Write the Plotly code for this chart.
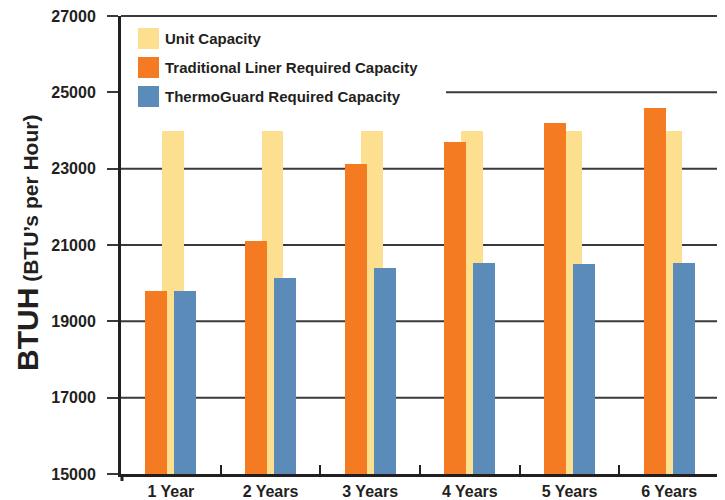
import plotly.graph_objects as go

years = ["1 Year", "2 Years", "3 Years", "4 Years", "5 Years", "6 Years"]
unit_capacity = [24000, 24000, 24000, 24000, 24000, 24000]
traditional = [19790, 21100, 23120, 23690, 24190, 24580]
thermoguard = [19790, 20130, 20390, 20520, 20500, 20520]
series_names = ["Unit Capacity", "Traditional Liner Required Capacity", "ThermoGuard Required Capacity"]
y_ticks = [15000, 17000, 19000, 21000, 23000, 25000, 27000]

colors = ["#FDE08F", "#F47B22", "#5B8BB9"]
offsets = [-0.09, -0.255, 0.035]
TXT = "#231F20"
GRID = "#3A3A3A"
FONT = "Liberation Sans, Arial, Helvetica, sans-serif"

# page has an 8px body margin: figure coordinates = page coordinates - 8
OFF = 8
W, H = 725 - OFF, 500 - OFF
PL, PR, PT, PB = 121, 719, 16, 474          # plot area in page pixels
ML, MR, MT, MB = PL - OFF, W - (PR - OFF), PT - OFF, H - (PB - OFF)
PW, PH = PR - PL, PB - PT

def px_x(x):
    return (x - PL) / PW

def px_y(y):
    return (PB - y) / PH

fig = go.Figure()
for name, vals, col, off in zip(series_names, [unit_capacity, traditional, thermoguard], colors, offsets):
    fig.add_trace(go.Bar(x=years, y=vals, name=name, marker_color=col,
                         marker_line_width=0, width=0.22, offset=off, showlegend=False))

shapes = []
# horizontal gridlines (the 25000 one starts right of the legend box; top one drawn as border)
for v in y_ticks[1:-1]:
    x0 = px_x(446) if v == 25000 else 0
    shapes.append(dict(type="line", xref="paper", yref="y", x0=x0, x1=1, y0=v, y1=v,
                       line=dict(color=GRID, width=2), layer="below"))
# top and right border
shapes.append(dict(type="line", xref="paper", yref="paper", x0=0, x1=1, y0=1, y1=1,
                   line=dict(color=GRID, width=2)))
shapes.append(dict(type="line", xref="paper", yref="paper", x0=1, x1=1, y0=0, y1=1,
                   line=dict(color=GRID, width=2)))
# left axis stub below bottom axis
shapes.append(dict(type="line", xref="paper", yref="paper", x0=px_x(122), x1=px_x(122),
                   y0=px_y(474), y1=px_y(481), line=dict(color=TXT, width=3)))

annotations = []
rows = [(28, 49), (57, 78), (86, 107)]
for name, col, (t, b) in zip(series_names, colors, rows):
    shapes.append(dict(type="rect", xref="paper", yref="paper", x0=px_x(138), x1=px_x(159),
                       y0=px_y(b), y1=px_y(t), fillcolor=col, line_width=0, layer="above"))
    annotations.append(dict(xref="paper", yref="paper", x=px_x(163), y=px_y((t + b) / 2),
                            xanchor="left", yanchor="middle", showarrow=False, text="<b>" + name + "</b>",
                            font=dict(family=FONT, size=15, color=TXT)))

annotations.append(dict(xref="paper", yref="paper", x=px_x(27), y=px_y(243), xanchor="center", yanchor="middle",
                        showarrow=False, textangle=-90,
                        text="<b>BTUH</b><b><span style='font-size:21px'> (BTU’s per Hour)</span></b>",
                        font=dict(family=FONT, size=30, color=TXT)))

fig.update_layout(
    width=W, height=H, margin=dict(l=ML, r=MR, t=MT, b=MB, autoexpand=False),
    paper_bgcolor="white", plot_bgcolor="white",
    barmode="overlay", bargap=0,
    shapes=shapes, annotations=annotations,
    font=dict(family=FONT, color=TXT),
    xaxis=dict(showline=True, linecolor=TXT, linewidth=3, showgrid=False, automargin=False,
               tickson="boundaries", ticks="inside", ticklen=9, tickwidth=1.5, tickcolor=TXT,
               tickfont=dict(family=FONT, size=16, color=TXT, weight="bold"),
               ticklabelstandoff=1, ticklabeloverflow="allow", range=[-0.5, 5.5], fixedrange=True),
    yaxis=dict(range=[15000, 27000], tickvals=y_ticks, ticktext=[str(v) for v in y_ticks],
               showline=True, linecolor=TXT, linewidth=3, automargin=False,
               showgrid=False, zeroline=False,
               ticks="outside", ticklen=11, tickwidth=2, tickcolor=GRID,
               tickfont=dict(family=FONT, size=16, color=TXT, weight="bold"),
               ticklabelstandoff=8, ticklabeloverflow="allow", fixedrange=True),
)

fig.write_html("out.html")
